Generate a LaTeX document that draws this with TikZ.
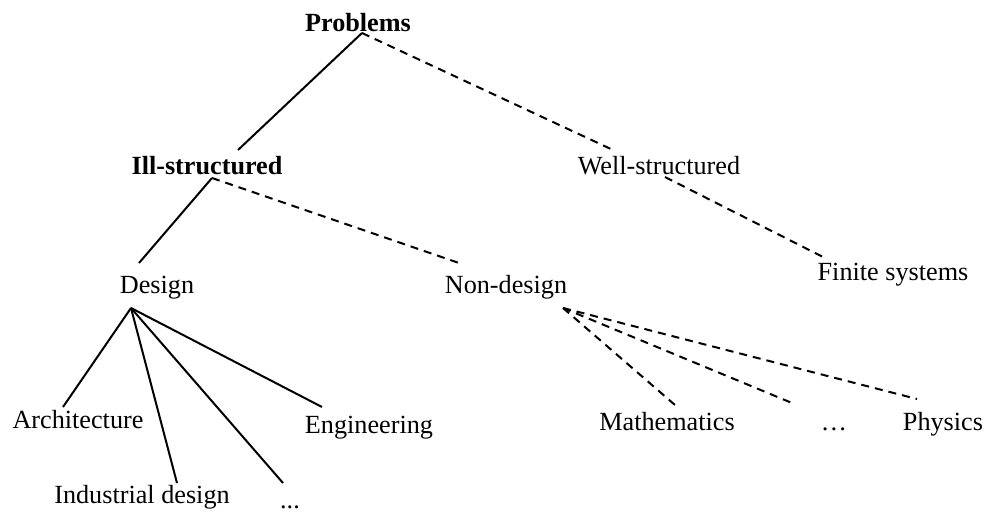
\documentclass[tikz,border=0pt]{standalone}
\usepackage{fontspec}
\setmainfont{Liberation Serif}

\tikzset{
  lbl/.style={inner sep=0pt, anchor=base, font=\fontsize{13.1}{15}\selectfont},
  solidlink/.style={line width=1pt},
  dashlink/.style={line width=1pt, dash pattern=on 4pt off 3pt}
}

\begin{document}
\begin{tikzpicture}[x=0.5pt, y=-0.5pt]
		\useasboundingbox (0,0) rectangle (990,513);
		
		% Raiz
		\node[lbl] (prob) at (358, 32) {\bfseries Problems};
		
		% Nivel 1
		\node[lbl] (ill) at (207, 175) {\bfseries Ill-structured};
		\node[lbl] (well) at (659, 175) {Well-structured};
		
		% Nivel 2
		\node[lbl] (des) at (157, 293) {Design};
		\node[lbl] (nondes) at (506, 293) {Non-design};
		\node[lbl] (fin) at (893, 280) {Finite systems};
		
		% Hojas de Design
		\node[lbl] (arch) at (78, 428) {Architecture};
		\node[lbl] (ind) at (142, 503) {Industrial design};
		\node[lbl] (dotsa) at (290, 508) {...};
		\node[lbl] (eng) at (369, 433) {Engineering};
		
		% Hojas de Non-design
		\node[lbl] (math) at (667, 430) {Mathematics};
		\node[lbl] (dotsb) at (834, 430) {…};
		\node[lbl] (phys) at (943, 430) {Physics};
		
		% Conexiones
		\draw[solidlink] ([shift={(4,1)}]prob.base) -- ([shift={(31,-25)}]ill.base);
		\draw[dashlink] ([shift={(4,1)}]prob.base) -- ([shift={(-46,-25)}]well.base);
		\draw[solidlink] ([shift={(5,3)}]ill.base) -- ([shift={(-18,-30)}]des.base);
		\draw[dashlink] ([shift={(5,3)}]ill.base) -- ([shift={(-47,-30)}]nondes.base);
		\draw[dashlink] ([shift={(6,2)}]well.base) -- ([shift={(-70,-23)}]fin.base);
		
		\draw[solidlink] ([shift={(-26,15)}]des.base) -- ([shift={(-15,-21)}]arch.base);
		\draw[solidlink] ([shift={(-26,15)}]des.base) -- ([shift={(35,-20)}]ind.base);
		\draw[solidlink] ([shift={(-26,15)}]des.base) -- ([shift={(-7,-25)}]dotsa.base);
		\draw[solidlink] ([shift={(-26,15)}]des.base) -- ([shift={(-47,-26)}]eng.base);
		
		\draw[dashlink] ([shift={(57,15)}]nondes.base) -- ([shift={(8,-25)}]math.base);
		\draw[dashlink] ([shift={(57,15)}]nondes.base) -- ([shift={(-42,-27)}]dotsb.base);
		\draw[dashlink] ([shift={(57,15)}]nondes.base) -- ([shift={(-26,-31)}]phys.base);
	\end{tikzpicture}
\end{document}
